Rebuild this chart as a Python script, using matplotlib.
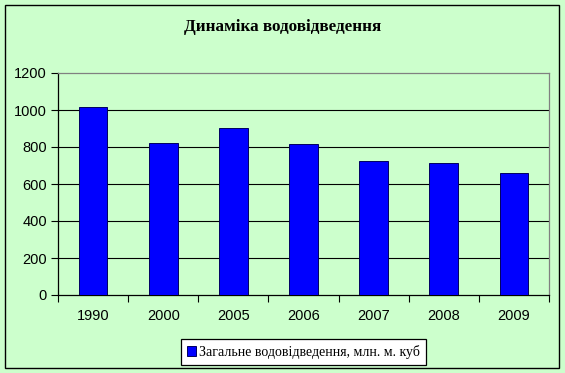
import numpy as np
import matplotlib.pyplot as plt
from matplotlib.patches import Rectangle

years = ["1990", "2000", "2005", "2006", "2007", "2008", "2009"]
values = [1014, 820, 901, 815, 724, 712, 658]
yticks = [0, 200, 400, 600, 800, 1000, 1200]

title = "Динаміка водовідведення"
series_label = "Загальне водовідведення, млн. м. куб"

W, H = 565, 373
bg = "#ccffcc"

fig = plt.figure(figsize=(W / 100, H / 100), dpi=100, facecolor=bg)

# outer chart frame
fig.patches.append(Rectangle((5 / W, 5 / H), 554 / W, 363 / H,
                             transform=fig.transFigure, fill=False,
                             edgecolor="black", lw=1.0))

ax = fig.add_axes([58 / W, (H - 295) / H, 491 / W, 222 / H])
ax.set_facecolor(bg)

x = np.arange(len(years))
bars = ax.bar(x, values, width=0.41, color="#0000ff", edgecolor="#000060",
              lw=0.7, zorder=3, label=series_label)

ax.set_xlim(-0.5, len(years) - 0.5)
ax.set_ylim(0, 1200)
ax.set_yticks(yticks)
ax.set_yticklabels([str(v) for v in yticks], fontsize=10.5,
                   family="Liberation Sans")
for v in yticks[1:-1]:
    ax.axhline(v, color="black", lw=0.8, zorder=1)

ax.set_xticks(x)
ax.set_xticklabels(years, fontsize=10.5, family="Liberation Sans")
ax.set_xticks(np.arange(len(years) + 1) - 0.5, minor=True)
ax.tick_params(axis="x", which="major", length=0, pad=10)
ax.tick_params(axis="x", which="minor", length=5, width=0.8, direction="out")
ax.tick_params(axis="y", length=5, width=0.8, direction="out", pad=3)

for s in ["left", "bottom"]:
    ax.spines[s].set_color("black")
    ax.spines[s].set_linewidth(0.9)
for s in ["top", "right"]:
    ax.spines[s].set_color("#808080")
    ax.spines[s].set_linewidth(0.9)

fig.text(283 / W, 1 - 27 / H, title, ha="center", va="center",
         fontsize=12.3, fontweight="bold", family="Liberation Serif")

leg = fig.legend(handles=[bars], labels=[series_label],
                 loc="center", bbox_to_anchor=(303.5 / W, 1 - 352 / H),
                 prop={"family": "Liberation Serif", "size": 10},
                 frameon=True, fancybox=False, edgecolor="black",
                 facecolor="white", framealpha=1, handlelength=0.65,
                 handleheight=0.7, handletextpad=0.25, borderpad=0.4,
                 borderaxespad=0)
leg.get_frame().set_linewidth(0.9)

fig.savefig("out.png", dpi=100, facecolor=bg)
